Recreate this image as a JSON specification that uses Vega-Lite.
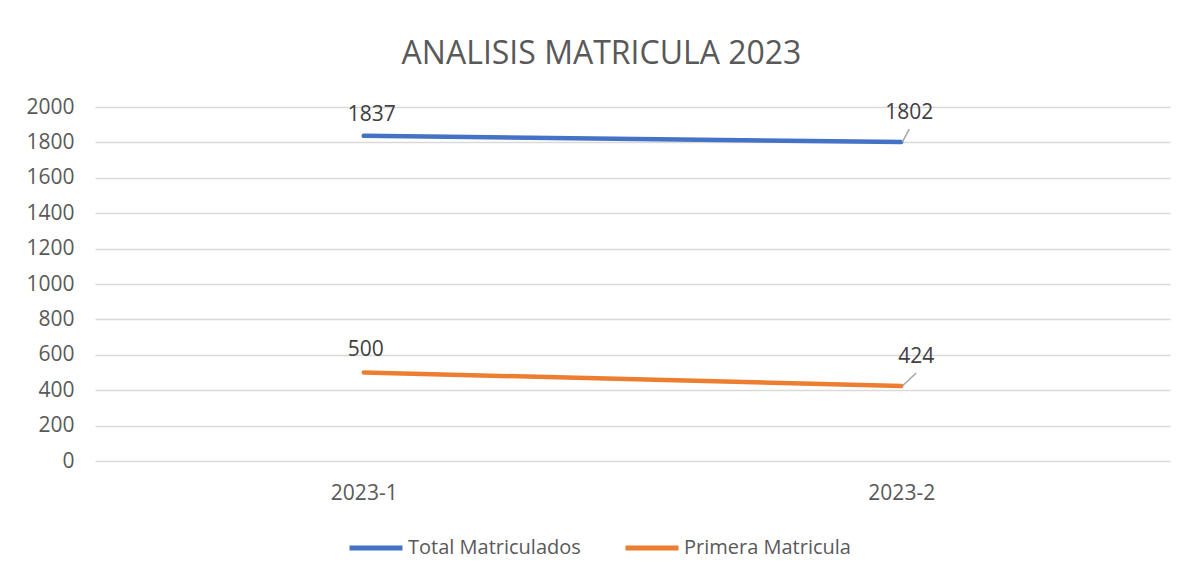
{
  "$schema": "https://vega.github.io/schema/vega-lite/v6.json",
  "width": 1075,
  "height": 354,
  "autosize": "none",
  "padding": {"left": 95, "top": 107, "right": 21, "bottom": 116},
  "background": "white",
  "title": {"text": "ANALISIS MATRICULA 2023", "fontSize": 32, "font": "Open Sans", "fontWeight": "normal", "color": "#595959", "anchor": "middle", "offset": 25, "dx": -31},
  "config": {"view": {"stroke": null}},
  "data": {"values": [
    {"period": "2023-1", "series": "Total Matriculados", "value": 1837},
    {"period": "2023-2", "series": "Total Matriculados", "value": 1802},
    {"period": "2023-1", "series": "Primera Matricula", "value": 500},
    {"period": "2023-2", "series": "Primera Matricula", "value": 424}
  ]},
  "encoding": {
    "x": {"field": "period", "type": "nominal", "scale": {"type": "point", "padding": 0.5},
      "axis": {"title": null, "domain": false, "ticks": false, "labelAngle": 0, "labelPadding": 21, "labelFontSize": 21, "labelFont": "Open Sans", "labelColor": "#595959", "grid": false}},
    "y": {"field": "value", "type": "quantitative", "scale": {"domain": [0, 2000], "nice": false},
      "axis": {"title": null, "domain": false, "ticks": false, "format": "d", "values": [0, 200, 400, 600, 800, 1000, 1200, 1400, 1600, 1800, 2000], "labelPadding": 21, "labelFontSize": 21, "labelFont": "Open Sans", "labelColor": "#595959", "grid": true, "gridColor": "#d9d9d9", "gridWidth": 1.5}}
  },
  "layer": [
    {
      "mark": {"type": "line", "strokeWidth": 4.5, "strokeCap": "round"},
      "encoding": {
        "color": {"field": "series", "type": "nominal",
          "scale": {"domain": ["Total Matriculados", "Primera Matricula"], "range": ["#4472C4", "#ED7D31"]},
          "legend": {"title": null, "orient": "none", "legendX": 252, "legendY": 412, "direction": "horizontal", "symbolType": "stroke", "symbolSize": 2809, "symbolStrokeWidth": 5, "labelFontSize": 20, "labelFont": "Open Sans", "labelColor": "#595959", "labelOffset": 3, "labelLimit": 400, "columnPadding": 34, "padding": 0}}
      }
    },
    {
      "transform": [{"filter": "datum.period == '2023-2' && datum.series == 'Total Matriculados'"}],
      "mark": {"type": "rule", "color": "#a6a6a6", "strokeWidth": 1.5, "xOffset": 1, "x2Offset": 8, "y2Offset": -13},
      "encoding": {"x2": {"field": "period"}, "y2": {"field": "value"}}
    },
    {
      "transform": [{"filter": "datum.period == '2023-2' && datum.series == 'Primera Matricula'"}],
      "mark": {"type": "rule", "color": "#a6a6a6", "strokeWidth": 1.5, "xOffset": 1, "x2Offset": 15, "y2Offset": -13},
      "encoding": {"x2": {"field": "period"}, "y2": {"field": "value"}}
    },
    {
      "transform": [{"filter": "datum.period == '2023-1' && datum.series == 'Total Matriculados'"}],
      "mark": {"type": "text", "fontSize": 21, "font": "Open Sans", "color": "#404040", "baseline": "alphabetic", "dx": 8, "dy": -15},
      "encoding": {"text": {"field": "value", "type": "quantitative"}}
    },
    {
      "transform": [{"filter": "datum.period == '2023-1' && datum.series == 'Primera Matricula'"}],
      "mark": {"type": "text", "fontSize": 21, "font": "Open Sans", "color": "#404040", "baseline": "alphabetic", "dx": 2, "dy": -17},
      "encoding": {"text": {"field": "value", "type": "quantitative"}}
    },
    {
      "transform": [{"filter": "datum.period == '2023-2' && datum.series == 'Total Matriculados'"}],
      "mark": {"type": "text", "fontSize": 21, "font": "Open Sans", "color": "#404040", "baseline": "alphabetic", "dx": 8, "dy": -23},
      "encoding": {"text": {"field": "value", "type": "quantitative"}}
    },
    {
      "transform": [{"filter": "datum.period == '2023-2' && datum.series == 'Primera Matricula'"}],
      "mark": {"type": "text", "fontSize": 21, "font": "Open Sans", "color": "#404040", "baseline": "alphabetic", "dx": 15, "dy": -23},
      "encoding": {"text": {"field": "value", "type": "quantitative"}}
    }
  ]
}
